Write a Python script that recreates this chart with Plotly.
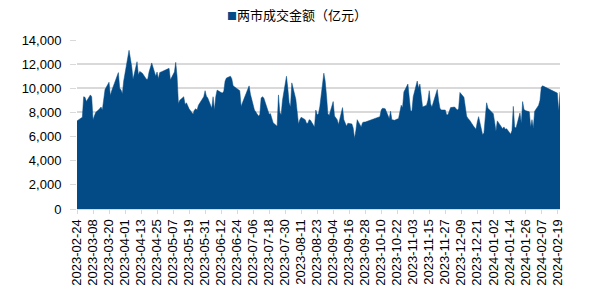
import pandas as pd
import plotly.graph_objects as go

# ---- data (亿元), one list per month of trading days ----
feb23 = [7300, 7500, 7600]
mar23 = [9300, 9250, 8900, 9450, 9300, 7400, 7700, 8000, 8300, 8450, 8200, 9200, 9900, 10500, 9400, 9800, 10200, 10400, 11300, 10000, 9850, 9550, 10600]
apr23 = [12600, 13150, 11800, 10750, 12200, 11100, 11400, 11300, 11250, 10750, 10750, 11350, 11800, 12100, 11000, 11350, 10800, 11300, 11350]
may23 = [11650, 10700, 11350, 12150, 11000, 8750, 9000, 9300, 8650, 8800, 8500, 8300, 7850, 8200, 8300, 8200, 8600, 9100, 9300, 9800]
jun23 = [9350, 9200, 8350, 9300, 8200, 9300, 9850, 9650, 9600, 9750, 10600, 10850, 11000, 10800, 10200, 9800, 8500, 8800, 9100, 9300]
jul23 = [10200, 9500, 9000, 8600, 8200, 7700, 7800, 9200, 9300, 9200, 8200, 7850, 7900, 7500, 7150, 6850, 9450, 8000, 7800, 9000, 11000]
aug23 = [10000, 8800, 8450, 10450, 9100, 8200, 7050, 7400, 7600, 7400, 7100, 7100, 7400, 7350, 6800, 8200, 7800, 7900, 8500, 11250, 10600, 9400, 7900]
sep23 = [7750, 8900, 7700, 7550, 7400, 7000, 8400, 7400, 7100, 6850, 7100, 7050, 6700, 5850, 6500, 7400, 6800, 7150, 7200, 7200]
oct23 = [7650, 8200, 8350, 8300, 8300, 7500, 8100, 7400, 7400, 7350, 7500, 7950, 8600, 8400, 9700, 10350, 9000]
nov23 = [8150, 8100, 9300, 10600, 10000, 10350, 9400, 8450, 8600, 9000, 9800, 8700, 8450, 9400, 9900, 9000, 8350, 8200, 8200, 7800, 7800, 8100]
dec23 = [8400, 8450, 8300, 8200, 8300, 9650, 9250, 8600, 7700, 7500, 7400, 6900, 6700, 6600, 7200, 7650, 6150, 6300, 7600, 8800, 8350]
jan24 = [7900, 7200, 6450, 7300, 6800, 6650, 6800, 6600, 6650, 6200, 6500, 8500, 6800, 6700, 7950, 7100, 8900, 8250, 8150, 8050, 6800, 7400]
feb24 = [6700, 8100, 8600, 9000, 10100, 10200, 9600, 8100, 9700]

holidays = ["2023-04-05", "2023-05-01", "2023-05-02", "2023-05-03", "2023-06-22", "2023-06-23",
            "2023-09-29", "2023-10-02", "2023-10-03", "2023-10-04", "2023-10-05", "2023-10-06",
            "2024-01-01", "2024-02-09", "2024-02-12", "2024-02-13", "2024-02-14", "2024-02-15",
            "2024-02-16"]

series_name = "两市成交金额（亿元）"
y_ticks = [0, 2000, 4000, 6000, 8000, 10000, 12000, 14000]

values = feb23 + mar23 + apr23 + may23 + jun23 + jul23 + aug23 + sep23 + oct23 + nov23 + dec23 + jan24 + feb24
dates = [d.strftime("%Y-%m-%d") for d in pd.bdate_range("2023-02-24", "2024-02-21")
         if d.strftime("%Y-%m-%d") not in holidays]
n = min(len(dates), len(values))
dates, values = dates[:n], values[:n]

BLUE = "#024b86"

fig = go.Figure()
fig.add_trace(go.Scatter(
    x=dates, y=values, mode="lines", fill="tozeroy",
    line=dict(color=BLUE, width=0.5), fillcolor=BLUE,
    showlegend=False, hoverinfo="skip",
))

fig.update_layout(
    width=589, height=290,
    margin=dict(l=77, r=29, t=40, b=80.5),
    paper_bgcolor="white", plot_bgcolor="white",
    font=dict(family="Liberation Sans, Arial, sans-serif", size=13, color="#000000"),
    xaxis=dict(
        type="date", automargin=False,
        range=["2023-02-24", "2024-02-21"],
        tick0="2023-02-24", dtick=12 * 86400000,
        tickformat="%Y-%m-%d", tickangle=-90,
        showgrid=False, zeroline=False,
        showline=True, linecolor="#d9d9d9", linewidth=1,
        ticks="outside", ticklen=4, tickcolor="#d9d9d9",
        tickfont=dict(size=13),
    ),
    yaxis=dict(
        automargin=False,
        range=[0, 14000], tickvals=y_ticks, tickformat=",",
        showgrid=True, gridcolor="#d9d9d9", gridwidth=1.5,
        zeroline=False, showline=False,
        ticks="outside", ticklen=6, tickcolor="#d9d9d9",
        ticklabelstandoff=6,
        tickfont=dict(size=13),
    ),
    annotations=[dict(
        xref="paper", yref="paper", x=0.455, y=1.15, xanchor="center", yanchor="middle",
        showarrow=False,
        text='<span style="color:%s;font-size:10px">■</span>%s' % (BLUE, series_name),
        font=dict(family="Noto Sans CJK SC", size=13, color="#000000"),
    )],
)

fig.write_html("out.html", config={"displayModeBar": False})
